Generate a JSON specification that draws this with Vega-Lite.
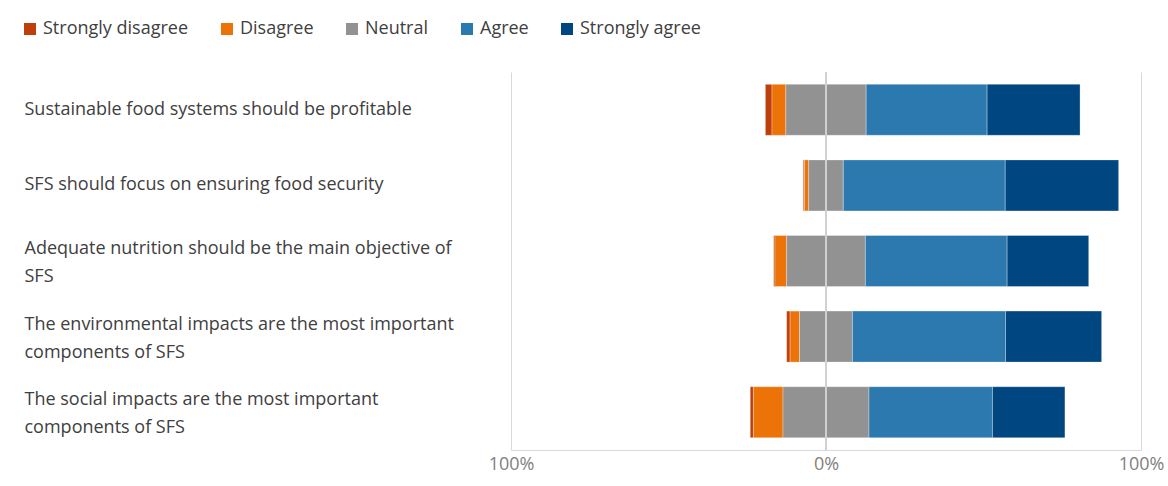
{
  "$schema": "https://vega.github.io/schema/vega-lite/v6.json",
  "autosize": {"type": "none"},
  "width": 630,
  "height": 378,
  "padding": {"left": 511, "top": 72, "right": 27, "bottom": 36},
  "background": "white",
  "config": {
    "view": {"stroke": null},
    "font": "Open Sans"
  },
  "data": {
    "values": [
      {"statement": "Sustainable food systems should be profitable", "response": "Strongly disagree", "rank": 2, "value": -2.1},
      {"statement": "Sustainable food systems should be profitable", "response": "Disagree", "rank": 1, "value": -4.4},
      {"statement": "Sustainable food systems should be profitable", "response": "Neutral", "rank": 0, "value": -12.75},
      {"statement": "Sustainable food systems should be profitable", "response": "Neutral", "rank": 0, "value": 12.75},
      {"statement": "Sustainable food systems should be profitable", "response": "Agree", "rank": 1, "value": 38.4},
      {"statement": "Sustainable food systems should be profitable", "response": "Strongly agree", "rank": 2, "value": 29.5},

      {"statement": "SFS should focus on ensuring food security", "response": "Strongly disagree", "rank": 2, "value": -0.4},
      {"statement": "SFS should focus on ensuring food security", "response": "Disagree", "rank": 1, "value": -1.3},
      {"statement": "SFS should focus on ensuring food security", "response": "Neutral", "rank": 0, "value": -5.5},
      {"statement": "SFS should focus on ensuring food security", "response": "Neutral", "rank": 0, "value": 5.5},
      {"statement": "SFS should focus on ensuring food security", "response": "Agree", "rank": 1, "value": 51.4},
      {"statement": "SFS should focus on ensuring food security", "response": "Strongly agree", "rank": 2, "value": 36.0},

      {"statement": "Adequate nutrition should be the main objective of SFS", "response": "Strongly disagree", "rank": 2, "value": -0.4},
      {"statement": "Adequate nutrition should be the main objective of SFS", "response": "Disagree", "rank": 1, "value": -3.7},
      {"statement": "Adequate nutrition should be the main objective of SFS", "response": "Neutral", "rank": 0, "value": -12.5},
      {"statement": "Adequate nutrition should be the main objective of SFS", "response": "Neutral", "rank": 0, "value": 12.5},
      {"statement": "Adequate nutrition should be the main objective of SFS", "response": "Agree", "rank": 1, "value": 45.0},
      {"statement": "Adequate nutrition should be the main objective of SFS", "response": "Strongly agree", "rank": 2, "value": 25.9},

      {"statement": "The environmental impacts are the most important components of SFS", "response": "Strongly disagree", "rank": 2, "value": -1.1},
      {"statement": "The environmental impacts are the most important components of SFS", "response": "Disagree", "rank": 1, "value": -3.0},
      {"statement": "The environmental impacts are the most important components of SFS", "response": "Neutral", "rank": 0, "value": -8.4},
      {"statement": "The environmental impacts are the most important components of SFS", "response": "Neutral", "rank": 0, "value": 8.4},
      {"statement": "The environmental impacts are the most important components of SFS", "response": "Agree", "rank": 1, "value": 48.6},
      {"statement": "The environmental impacts are the most important components of SFS", "response": "Strongly agree", "rank": 2, "value": 30.5},

      {"statement": "The social impacts are the most important components of SFS", "response": "Strongly disagree", "rank": 2, "value": -1.0},
      {"statement": "The social impacts are the most important components of SFS", "response": "Disagree", "rank": 1, "value": -9.4},
      {"statement": "The social impacts are the most important components of SFS", "response": "Neutral", "rank": 0, "value": -13.65},
      {"statement": "The social impacts are the most important components of SFS", "response": "Neutral", "rank": 0, "value": 13.65},
      {"statement": "The social impacts are the most important components of SFS", "response": "Agree", "rank": 1, "value": 39.2},
      {"statement": "The social impacts are the most important components of SFS", "response": "Strongly agree", "rank": 2, "value": 23.0}
    ]
  },
  "layer": [
    {
      "mark": {"type": "bar", "stroke": "white", "strokeWidth": 1, "strokeOpacity": 0.3},
      "encoding": {
        "y": {
          "field": "statement",
          "type": "nominal",
          "sort": null,
          "scale": {"paddingInner": 0.325, "paddingOuter": 0.1625},
          "axis": {
            "title": null,
            "domain": false,
            "ticks": false,
            "tickSize": 0,
            "labelAlign": "left",
            "labelPadding": 487,
            "labelLimit": 480,
            "labelFontSize": 18,
            "labelColor": "#404040",
            "labelLineHeight": 28,
            "labelOffset": {"condition": {"test": "indexof(datum.value, 'Adequate') == 0 || indexof(datum.value, ' components of SFS') > 0", "value": -12}, "value": 0},
            "labelExpr": "indexof(datum.value, 'Adequate') == 0 ? ['Adequate nutrition should be the main objective of', 'SFS'] : indexof(datum.value, ' components of SFS') > 0 ? [replace(datum.value, ' components of SFS', ''), 'components of SFS'] : datum.value"
          }
        },
        "x": {
          "field": "value",
          "type": "quantitative",
          "stack": "zero",
          "scale": {"domain": [-100, 100], "nice": false},
          "axis": {
            "title": null,
            "values": [-100, 0, 100],
            "grid": true,
            "gridColor": "#d9d9d9",
            "gridWidth": 1,
            "domain": true,
            "domainColor": "#d9d9d9",
            "ticks": false,
            "labelFlush": false,
            "labelPadding": 5,
            "labelFontSize": 18,
            "labelColor": "#7f7f7f",
            "labelExpr": "abs(datum.value) + '%'"
          }
        },
        "order": {"field": "rank", "type": "quantitative", "sort": "ascending"},
        "color": {
          "field": "response",
          "type": "nominal",
          "scale": {
            "domain": ["Strongly disagree", "Disagree", "Neutral", "Agree", "Strongly agree"],
            "range": ["#BF3F0A", "#EC7308", "#929292", "#2C79AF", "#004680"]
          },
          "legend": {
            "title": null,
            "orient": "none",
            "direction": "horizontal",
            "legendX": -490,
            "legendY": -52,
            "symbolType": "square",
            "symbolSize": 144,
            "symbolStrokeWidth": 0,
            "symbolOpacity": 1,
            "labelFontSize": 18,
            "labelColor": "#404040",
            "labelOffset": 4,
            "columnPadding": 29,
            "labelLimit": 300
          }
        }
      }
    },
    {
      "mark": {"type": "rule", "color": "#d0d0d0", "strokeWidth": 2},
      "encoding": {"x": {"datum": 0}}
    }
  ]
}
